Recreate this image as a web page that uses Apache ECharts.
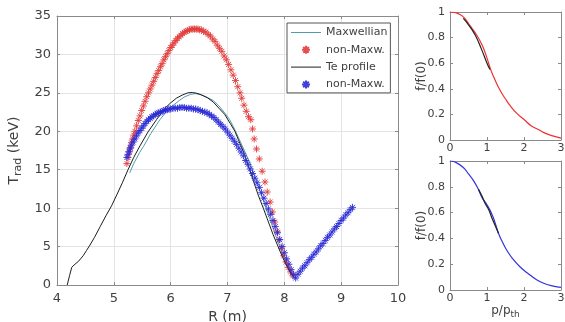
<!DOCTYPE html>
<html><head><meta charset="utf-8">
<script src="https://cdn.jsdelivr.net/npm/echarts@6/dist/echarts.min.js"></script>
<style>html,body{margin:0;padding:0;background:#fff}#c{width:565px;height:322px}</style>
</head><body><div id="c"></div><script>
// ---------- data ----------
const xTicksMain = [4, 5, 6, 7, 8, 9, 10];
const yTicksMain = [0, 5, 10, 15, 20, 25, 30, 35];

const maxwR = [5.28,5.35,5.45,5.52,5.65,5.81,5.93,6.05,6.15,6.25,6.35,6.43,6.52,6.62,6.75,6.85,6.95,7.04,7.13,7.21,7.29,7.40,7.48,7.57,7.66,7.75,7.84,7.92,8.00,8.08,8.15];
const maxwT = [14.6,15.8,17.2,18.0,19.7,21.5,22.6,23.4,24.0,24.5,24.8,24.9,24.8,24.5,24.0,23.3,22.4,21.5,20.2,18.9,17.6,15.8,14.2,12.3,10.4,8.5,6.6,5.0,3.5,2.2,1.2];

const teR = [4.18,4.22,4.26,4.30,4.38,4.46,4.52,4.58,4.66,4.76,4.86,4.96,5.05,5.15,5.25,5.35,5.46,5.60,5.75,5.90,6.00,6.10,6.20,6.30,6.38,6.46,6.55,6.65,6.75,6.85,6.95,7.05,7.13,7.22,7.30,7.37,7.45,7.54,7.63,7.72,7.80,7.89,7.97,8.05,8.12,8.18];
const teT = [0,1.2,2.3,2.6,3.1,3.8,4.5,5.2,6.2,7.6,9.0,10.3,11.7,13.3,15.0,16.6,18.1,19.9,21.5,23.0,23.7,24.3,24.7,25.0,25.05,24.95,24.7,24.35,23.8,23.0,22.2,21.0,20.0,18.4,17.0,15.4,13.7,11.7,10.0,8.2,6.6,5.0,3.6,2.4,1.5,0.9];

const redR = [5.23,5.25,5.27,5.29,5.31,5.33,5.35,5.37,5.40,5.43,5.46,5.49,5.52,5.55,5.58,5.61,5.64,5.67,5.70,5.73,5.76,5.79,5.82,5.85,5.88,5.91,5.94,5.97,6.00,6.03,6.06,6.09,6.12,6.15,6.18,6.21,6.24,6.27,6.30,6.33,6.36,6.39,6.42,6.45,6.48,6.51,6.54,6.58,6.62,6.66,6.70,6.74,6.78,6.82,6.86,6.90,6.94,6.98,7.02,7.06,7.10,7.14,7.18,7.22,7.25,7.29,7.33,7.37,7.41,7.44,7.47,7.51,7.56,7.61,7.66,7.70,7.75,7.79,7.83,7.87,7.91,7.95,7.99,8.03,8.07,8.11,8.15];
const redT = [15.8,16.6,17.3,17.9,18.5,19.0,19.5,20.0,20.7,21.4,22.0,22.7,23.3,23.9,24.5,25.0,25.5,26.0,26.5,27.0,27.5,27.9,28.4,28.8,29.3,29.7,30.1,30.5,30.9,31.2,31.5,31.8,32.1,32.3,32.5,32.7,32.9,33.0,33.1,33.2,33.3,33.3,33.3,33.3,33.3,33.2,33.2,33.0,32.9,32.6,32.4,32.0,31.7,31.2,30.8,30.4,29.8,29.3,28.7,28.0,27.3,26.6,25.8,25.0,24.3,23.4,22.6,21.9,21.5,20.3,19.0,17.7,16.4,14.8,13.4,12.1,10.8,9.5,8.2,7.0,5.9,4.8,3.8,3.0,2.3,1.7,1.2];

const blueR = [5.23,5.25,5.27,5.29,5.31,5.34,5.37,5.40,5.43,5.46,5.49,5.52,5.55,5.58,5.61,5.64,5.67,5.70,5.73,5.76,5.79,5.82,5.85,5.88,5.91,5.94,5.97,6.00,6.04,6.08,6.12,6.16,6.20,6.24,6.28,6.32,6.36,6.40,6.44,6.48,6.52,6.56,6.60,6.64,6.68,6.72,6.76,6.80,6.84,6.88,6.92,6.96,7.00,7.04,7.08,7.12,7.16,7.20,7.24,7.28,7.32,7.36,7.40,7.44,7.48,7.52,7.56,7.60,7.64,7.68,7.72,7.76,7.80,7.84,7.88,7.92,7.96,8.00,8.04,8.08,8.12,8.16,8.20,8.24,8.28,8.32,8.36,8.40,8.44,8.48,8.52,8.56,8.60,8.64,8.68,8.72,8.76,8.80,8.84,8.88,8.92,8.96,9.00,9.04,9.08,9.12,9.16,9.20];
const blueT = [16.6,17.0,17.4,17.8,18.2,18.6,19.0,19.4,19.8,20.1,20.4,20.7,21.0,21.3,21.5,21.7,21.9,22.0,22.2,22.3,22.4,22.5,22.6,22.7,22.8,22.8,22.9,22.9,23.0,23.0,23.0,23.1,23.1,23.1,23.0,23.0,23.0,22.9,22.9,22.8,22.7,22.6,22.5,22.4,22.2,22.0,21.8,21.5,21.2,20.9,20.6,20.3,19.9,19.5,19.1,18.7,18.3,17.8,17.3,16.8,16.2,15.7,15.1,14.5,13.9,13.3,12.7,12.0,11.3,10.6,9.9,9.2,8.4,7.6,6.8,5.9,5.0,4.2,3.4,2.7,2.0,1.4,0.9,1.4,1.8,2.2,2.5,2.9,3.3,3.6,4.0,4.3,4.7,5.1,5.4,5.8,6.2,6.5,6.9,7.3,7.6,8.0,8.4,8.7,9.1,9.4,9.8,10.1];

const topRedP = [0,0.15,0.27,0.40,0.50,0.60,0.72,0.82,0.90,1.00,1.10,1.20,1.35,1.50,1.62,1.80,2.00,2.20,2.40,2.60,2.80,3.00];
const topRedF = [1.0,0.995,0.98,0.95,0.91,0.87,0.82,0.77,0.72,0.64,0.55,0.48,0.39,0.32,0.27,0.21,0.16,0.11,0.08,0.05,0.03,0.015];
const topBlackP = [0.36,0.50,0.68,0.85,1.00,1.08];
const topBlackF = [0.95,0.90,0.82,0.71,0.60,0.55];

const botBlueP = [0,0.15,0.36,0.50,0.63,0.75,0.86,1.00,1.13,1.22,1.31,1.42,1.53,1.70,1.89,2.10,2.34,2.55,2.79,3.00];
const botBlueF = [1.0,0.99,0.95,0.90,0.85,0.79,0.72,0.66,0.59,0.52,0.44,0.37,0.31,0.24,0.18,0.13,0.08,0.05,0.03,0.02];
const botBlackP = [0.77,0.86,0.95,1.05,1.13,1.22,1.31];
const botBlackF = [0.78,0.73,0.67,0.62,0.56,0.50,0.44];

const legendNames = ['Maxwellian', 'non-Maxw.', 'Te profile', 'non-Maxw. '];

// ---------- chart ----------
const zip = (a, b) => a.map((v, i) => [v, b[i]]);
const FONT = 'DejaVu Sans';
const AX = '#8a8a8a', TXT = '#404040', GRIDC = '#e4e4e4';
const STAR = 'path://M5,0L5,10M0,5L10,5M1.5,1.5L8.5,8.5M1.5,8.5L8.5,1.5';
const LINEICON = 'path://M0,0L30,0L30,1L0,1Z';
const C_MAXW = '#4f9cae', C_TE = '#1e1e1e', C_RED = '#e23c3c', C_BLUE = '#2b2bd6';

function xPair(gi, min, max, interval, split, name, nameGap, fs, margin) {
  return [
    { type: 'value', gridIndex: gi, min, max, interval, position: 'bottom',
      axisLine: { show: true, onZero: false, lineStyle: { color: AX, width: 1 } },
      axisTick: { show: true, inside: true, length: 3, lineStyle: { color: AX } },
      axisLabel: { show: true, color: TXT, fontFamily: FONT, fontSize: fs, margin },
      splitLine: { show: split, lineStyle: { color: GRIDC, width: 1 } },
      name, nameLocation: 'middle', nameGap,
      nameTextStyle: { color: TXT, fontFamily: FONT, fontSize: fs + 1,
        rich: { a: { fontSize: fs + 1, fontFamily: FONT, color: TXT, lineHeight: 16 },
                b: { fontSize: fs - 2, fontFamily: FONT, color: TXT, lineHeight: 8, verticalAlign: 'bottom' } } } },
    { type: 'value', gridIndex: gi, min, max, interval, position: 'top',
      axisLine: { show: true, onZero: false, lineStyle: { color: AX, width: 1 } },
      axisTick: { show: true, inside: true, length: 3, lineStyle: { color: AX } },
      axisLabel: { show: false }, splitLine: { show: false } }
  ];
}
function yPair(gi, min, max, interval, split, name, nameGap, fs, margin, moveOverlap) {
  return [
    { type: 'value', gridIndex: gi, min, max, interval, position: 'left',
      axisLine: { show: true, onZero: false, lineStyle: { color: AX, width: 1 } },
      axisTick: { show: true, inside: true, length: 3, lineStyle: { color: AX } },
      axisLabel: { show: true, color: TXT, fontFamily: FONT, fontSize: fs, margin },
      splitLine: { show: split, lineStyle: { color: GRIDC, width: 1 } },
      name, nameLocation: 'middle', nameGap, nameRotate: 90, nameMoveOverlap: moveOverlap,
      nameTextStyle: { color: TXT, fontFamily: FONT, fontSize: fs + 1,
        rich: { a: { fontSize: fs + 1, fontFamily: FONT, color: TXT, lineHeight: 18 },
                b: { fontSize: fs - 2, fontFamily: FONT, color: TXT, lineHeight: 9, verticalAlign: 'bottom' } } } },
    { type: 'value', gridIndex: gi, min, max, interval, position: 'right',
      axisLine: { show: true, onZero: false, lineStyle: { color: AX, width: 1 } },
      axisTick: { show: true, inside: true, length: 3, lineStyle: { color: AX } },
      axisLabel: { show: false }, splitLine: { show: false } }
  ];
}

const chart = echarts.init(document.getElementById('c'), null, { renderer: 'canvas' });
const option = {
  animation: false,
  backgroundColor: '#fff',
  grid: [
    { left: 57, top: 16, width: 341, height: 269, containLabel: false, outerBoundsMode: 'none' },
    { left: 450, top: 12, width: 111, height: 128, containLabel: false, outerBoundsMode: 'none' },
    { left: 450, top: 161, width: 111, height: 129, containLabel: false, outerBoundsMode: 'none' }
  ],
  xAxis: [
    ...xPair(0, xTicksMain[0], xTicksMain[xTicksMain.length - 1], 1, true, 'R (m)', 16, 13, 7),
    ...xPair(1, 0, 3, 1, false, '', 10, 11, 3),
    ...xPair(2, 0, 3, 1, false, '{a|p/p}{b|th}', 5, 11, 3)
  ],
  yAxis: [
    ...yPair(0, yTicksMain[0], yTicksMain[yTicksMain.length - 1], 5, true, '{a|T}{b|rad}{a| (keV)}', 19, 13, 6, true),
    ...yPair(1, 0, 1, 0.2, false, 'f/f(0)', 22, 11, 5, false),
    ...yPair(2, 0, 1, 0.2, false, 'f/f(0)', 22, 11, 5, false)
  ],
  legend: {
    left: 287, top: 23, orient: 'vertical',
    data: [
      { name: legendNames[0], icon: LINEICON, itemStyle: { color: C_MAXW } },
      { name: legendNames[1] },
      { name: legendNames[2], icon: LINEICON, itemStyle: { color: C_TE } },
      { name: legendNames[3] }
    ],
    formatter: n => n.trim(),
    itemWidth: 30, itemHeight: 8, itemGap: 6.3,
    padding: [4, 3, 3, 4],
    borderColor: '#555', borderWidth: 1, backgroundColor: '#fff',
    textStyle: { color: TXT, fontFamily: FONT, fontSize: 11 },
    selectedMode: false
  },
  series: [
    { name: legendNames[0], type: 'line', xAxisIndex: 0, yAxisIndex: 0, data: zip(maxwR, maxwT),
      symbol: 'none', lineStyle: { color: C_MAXW, width: 1 }, itemStyle: { color: C_MAXW }, z: 2 },
    { name: legendNames[1], type: 'scatter', xAxisIndex: 0, yAxisIndex: 0, data: zip(redR, redT),
      symbol: STAR, symbolSize: 7,
      itemStyle: { color: 'rgba(0,0,0,0)', borderColor: C_RED, borderWidth: 1, opacity: 0.9 }, z: 3 },
    { name: legendNames[2], type: 'line', xAxisIndex: 0, yAxisIndex: 0, data: zip(teR, teT),
      symbol: 'none', lineStyle: { color: C_TE, width: 1 }, itemStyle: { color: C_TE }, z: 4 },
    { name: legendNames[3], type: 'scatter', xAxisIndex: 0, yAxisIndex: 0, data: zip(blueR, blueT),
      symbol: STAR, symbolSize: 7,
      itemStyle: { color: 'rgba(0,0,0,0)', borderColor: C_BLUE, borderWidth: 1, opacity: 0.9 }, z: 5 },
    { name: 'topRed', type: 'line', xAxisIndex: 2, yAxisIndex: 2, data: zip(topRedP, topRedF),
      symbol: 'none', smooth: true, lineStyle: { color: '#ee3030', width: 1.2 }, z: 2 },
    { name: 'topBlack', type: 'line', xAxisIndex: 2, yAxisIndex: 2, data: zip(topBlackP, topBlackF),
      symbol: 'none', smooth: true, lineStyle: { color: '#222', width: 1.2 }, z: 3 },
    { name: 'botBlue', type: 'line', xAxisIndex: 4, yAxisIndex: 4, data: zip(botBlueP, botBlueF),
      symbol: 'none', smooth: true, lineStyle: { color: '#3333dd', width: 1.2 }, z: 2 },
    { name: 'botBlack', type: 'line', xAxisIndex: 4, yAxisIndex: 4, data: zip(botBlackP, botBlackF),
      symbol: 'none', smooth: true, lineStyle: { color: '#222', width: 1.2 }, z: 3 }
  ]
};
chart.setOption(option);
</script></body></html>
